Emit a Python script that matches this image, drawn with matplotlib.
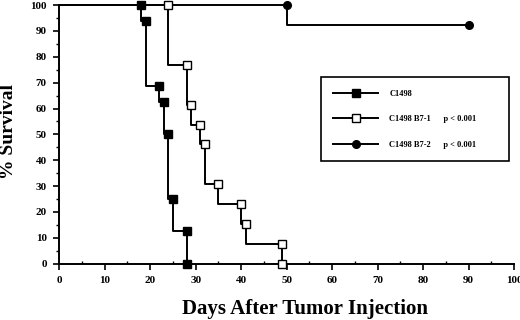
import matplotlib
matplotlib.use('Agg')
import matplotlib.pyplot as plt
from matplotlib.lines import Line2D
from matplotlib.ticker import MultipleLocator

# Kaplan-Meier curves: day of each step and survival (%) holding from that day on
c1498_days = [0, 18, 19, 22, 23, 24, 25, 28]
c1498_surv = [100, 93.75, 68.75, 62.5, 50, 25, 12.5, 0]

b71_days = [0, 24, 28, 29, 31, 32, 35, 40, 41, 49]
b71_surv = [100, 76.9, 61.5, 53.8, 46.2, 30.8, 23.1, 15.4, 7.7, 0]

b72_days = [0, 50, 90]
b72_surv = [100, 92.3, 92.3]

labels = ['C1498', 'C1498 B7-1      p < 0.001', 'C1498 B7-2      p < 0.001']

plt.rcParams['font.family'] = ['Liberation Serif', 'DejaVu Serif']
plt.rcParams['font.weight'] = 'bold'

fig = plt.figure(figsize=(5.2, 3.2), dpi=100)
ax = fig.add_axes([0.114, 0.176, 0.8745, 0.808])


def marker_points(days, surv, end_at_zero):
    # marker at the top of every drop, plus the final point
    mx = days[1:]
    my = surv[:-1]
    if end_at_zero:
        mx = mx + [days[-1]]
        my = my + [surv[-1]]
    else:
        mx = mx[:-1] + [days[-1]]
        my = my[:-1] + [surv[-1]]
    return mx, my


styles = [
    (c1498_days, c1498_surv, True, dict(marker='s', mfc='black', mec='black')),
    (b71_days, b71_surv, True, dict(marker='s', mfc='white', mec='black')),
    (b72_days, b72_surv, False, dict(marker='o', mfc='black', mec='black')),
]

for days, surv, zero, st in styles:
    ax.plot(days, surv, drawstyle='steps-post', color='black', lw=1.4,
            clip_on=False, zorder=2)
    mx, my = marker_points(days, surv, zero)
    ax.plot(mx, my, ls='none', ms=5.5, mew=1.0, clip_on=False, zorder=3, **st)

ax.set_xlim(0, 100)
ax.set_ylim(0, 100)
ax.xaxis.set_major_locator(MultipleLocator(10))
ax.xaxis.set_minor_locator(MultipleLocator(5))
ax.yaxis.set_major_locator(MultipleLocator(10))
ax.yaxis.set_minor_locator(MultipleLocator(5))
ax.tick_params(which='major', direction='out', length=4, width=1.2,
               labelsize=8, pad=5)
ax.tick_params(axis='y', which='minor', direction='out', length=2, width=1.0)
ax.tick_params(axis='x', which='minor', direction='in', length=2.5, width=1.0)
for lab in ax.get_xticklabels() + ax.get_yticklabels():
    lab.set_fontweight('bold')

for s in ['top', 'right']:
    ax.spines[s].set_visible(False)
for s in ['left', 'bottom']:
    ax.spines[s].set_linewidth(1.4)

ax.set_xlabel('Days After Tumor Injection', fontsize=15, fontweight='bold')
ax.xaxis.set_label_coords(0.54, -0.135)
ax.set_ylabel('% Survival', fontsize=14, fontweight='bold')
ax.yaxis.set_label_coords(-0.092, 0.51)

handles = [
    Line2D([], [], color='black', lw=1.4, marker='s', mfc='black', mec='black', ms=5.5),
    Line2D([], [], color='black', lw=1.4, marker='s', mfc='white', mec='black', ms=5.5),
    Line2D([], [], color='black', lw=1.4, marker='o', mfc='black', mec='black', ms=5.5),
]
leg = ax.legend(handles, labels, loc='upper left',
                bbox_to_anchor=(0.5755, 0.4006, 0.4135, 0.321), mode='expand',
                fontsize=6, handlelength=5.3, handletextpad=1.4, labelspacing=2.1,
                borderpad=1.5, fancybox=False, edgecolor='black', framealpha=1,
                borderaxespad=0)
leg.get_frame().set_linewidth(1.2)
for t in leg.get_texts():
    t.set_fontweight('bold')

fig.savefig('out.png', dpi=100)
